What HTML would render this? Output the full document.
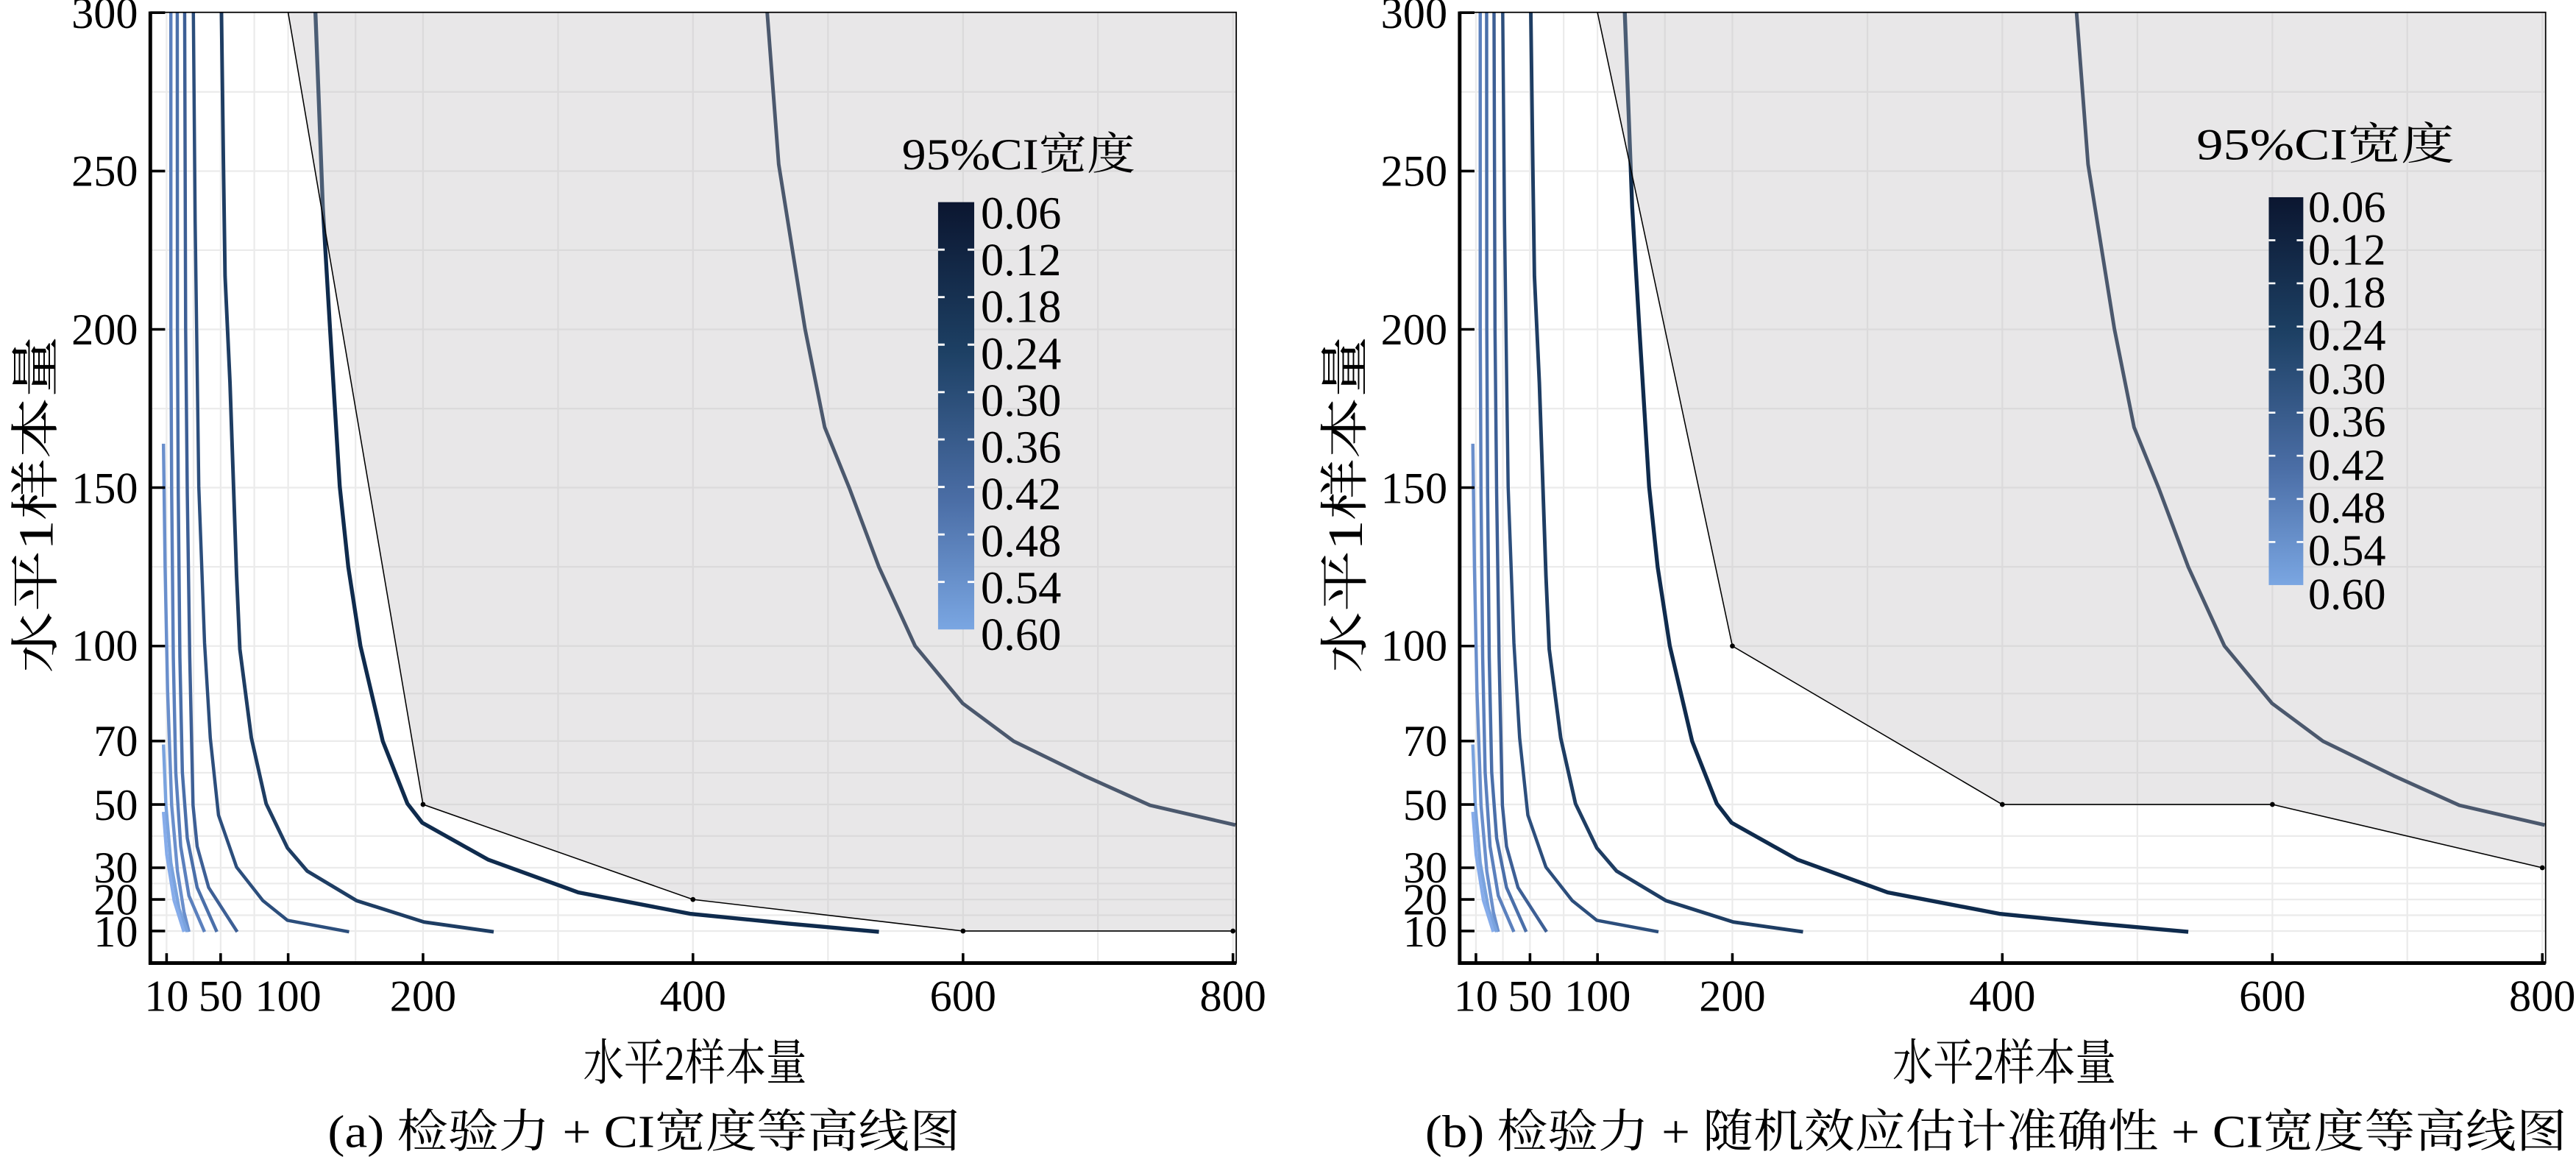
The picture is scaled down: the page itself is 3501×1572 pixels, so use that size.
<!DOCTYPE html>
<html><head><meta charset="utf-8"><style>
html,body{margin:0;padding:0;background:#fff;}
svg{display:block;}
text{font-family:"Liberation Serif","Noto Serif CJK SC","Noto Sans CJK SC",serif;fill:#000;}
</style></head><body>
<svg width="3501" height="1572" viewBox="0 0 1568 704" preserveAspectRatio="none" xmlns="http://www.w3.org/2000/svg" xmlns:xlink="http://www.w3.org/1999/xlink">
<defs>
<linearGradient id="cb" x1="0" y1="0" x2="0" y2="1">
<stop offset="0" stop-color="#0b1630"/><stop offset="0.35" stop-color="#1d4064"/><stop offset="0.7" stop-color="#4b6ea6"/><stop offset="1" stop-color="#7aa6e2"/>
</linearGradient>
<g id="base">
<g stroke="#ebebeb" stroke-width="1" fill="none">
<path d="M101.4 7.7V586M117.8 7.7V586M134.3 7.7V586M154.8 7.7V586M175.4 7.7V586M216.4 7.7V586M257.5 7.7V586M339.7 7.7V586M421.8 7.7V586M504 7.7V586M586.2 7.7V586M668.3 7.7V586M750.5 7.7V586"/>
<path d="M91.5 566.5H752M91.5 556.9H752M91.5 547.3H752M91.5 537.6H752M91.5 528H752M91.5 508.7H752M91.5 489.5H752M91.5 470.2H752M91.5 450.9H752M91.5 422H752M91.5 393.1H752M91.5 344.9H752M91.5 296.7H752M91.5 248.6H752M91.5 200.4H752M91.5 152.2H752M91.5 104.1H752M91.5 55.9H752"/>
</g>
<g fill="none" stroke-linejoin="round" stroke-linecap="butt">
<path stroke="#0e2442" stroke-width="2.2" d="M467 7.7L474 100L490 200L502 260L517 297L535 345L557 393L586 428L617 451L660 472L700 490L752 502"/>
<path stroke="#0f2b4d" stroke-width="2.4" d="M192 7.7L194 60L196.5 126L201 202L206.8 296L212 345L219.4 393L233 451L248 489L257 500.6L297 523L352 543L420 556L480 562L535 567"/>
<path stroke="#1e3d63" stroke-width="2.2" d="M134.8 7.7L136 100L137 168L140 233L144 350L146 395L153 449L162 489L175 516L187 530L217 548L258 561L300.5 567"/>
<path stroke="#2c4e7c" stroke-width="2" d="M117.7 7.7L118.8 135L121 296L124.5 391L128 449L133 496L144 527.6L160 548L175 560L212.5 567"/>
<path stroke="#3d5f95" stroke-width="2" d="M112.4 7.7L113 200L114 300L115.5 400L117.5 490L120 515L127 540L144.4 567"/>
<path stroke="#4a6fa9" stroke-width="2" d="M107.9 7.7L108 200L108.5 300L109.5 400L111 470L114 510L120 540L132 567"/>
<path stroke="#5b80bd" stroke-width="2" d="M104 7.7L104 200L104.5 300L105.5 400L107 470L110 515L115 545L124.5 567"/>
<path stroke="#6a8fcc" stroke-width="2" d="M99.5 270L100.5 345L102 420L104.5 490L108 530L112 555L115 567"/>
<path stroke="#7aa3de" stroke-width="2" d="M99.5 453L101 490L104 525L109 553L114 567"/>
<path stroke="#86acea" stroke-width="2" d="M99.5 494L101.5 520L106 548L112 567"/>
</g>
</g>
</defs>

<use xlink:href="#base"/>
<path d="M175.4 7.7L257.5 489.5L421.8 547.3L586.2 566.5L752 566.5L752 7.7Z" fill="rgb(189,187,189)" fill-opacity="0.35"/>
<path d="M175.4 7.7L257.5 489.5L421.8 547.3L586.2 566.5L752 566.5" fill="none" stroke="#000" stroke-width="0.7"/>
<g fill="#000"><circle cx="257.5" cy="489.5" r="1.5"/><circle cx="421.8" cy="547.3" r="1.5"/><circle cx="586.2" cy="566.5" r="1.5"/><circle cx="750.5" cy="566.5" r="1.5"/></g>

<use xlink:href="#base" transform="translate(797,0)"/>
<path d="M972.4 7.7L1054.5 393.1L1218.8 489.5L1383.2 489.5L1547.5 528L1549 528L1549 7.7Z" fill="rgb(189,187,189)" fill-opacity="0.35"/>
<path d="M972.4 7.7L1054.5 393.1L1218.8 489.5L1383.2 489.5L1547.5 528" fill="none" stroke="#000" stroke-width="0.7"/>
<g fill="#000"><circle cx="1054.5" cy="393.1" r="1.5"/><circle cx="1218.8" cy="489.5" r="1.5"/><circle cx="1383.2" cy="489.5" r="1.5"/><circle cx="1547.5" cy="528" r="1.5"/></g>

<g id="frameA" fill="none" stroke="#000">
<rect x="91.5" y="7.5" width="661" height="578.5" stroke-width="0.8"/>
<path d="M91.5 7V587M90.5 586H752.5" stroke-width="2.2"/>
<path stroke-width="1.6" d="M91.5 566.5h9M91.5 547.3h9M91.5 528h9M91.5 489.5h9M91.5 450.9h9M91.5 393.1h9M91.5 296.7h9M91.5 200.4h9M91.5 104.1h9M91.5 7.7h9M101.4 586v-6M134.3 586v-6M175.4 586v-6M257.5 586v-6M421.8 586v-6M586.2 586v-6M750.5 586v-6"/>
</g>
<use xlink:href="#frameA" transform="translate(797,0)"/>

<g font-size="27" text-anchor="end">
<text x="84" y="17">300</text><text x="84" y="113">250</text><text x="84" y="209.5">200</text><text x="84" y="306">150</text><text x="84" y="402">100</text><text x="84" y="460">70</text><text x="84" y="499">50</text><text x="84" y="537">30</text><text x="84" y="556.5">20</text><text x="84" y="576">10</text>
<text x="881" y="17">300</text><text x="881" y="113">250</text><text x="881" y="209.5">200</text><text x="881" y="306">150</text><text x="881" y="402">100</text><text x="881" y="460">70</text><text x="881" y="499">50</text><text x="881" y="537">30</text><text x="881" y="556.5">20</text><text x="881" y="576">10</text>
</g>
<g font-size="27" text-anchor="middle">
<text x="101.4" y="615">10</text><text x="134.3" y="615">50</text><text x="175.4" y="615">100</text><text x="257.5" y="615">200</text><text x="421.8" y="615">400</text><text x="586.2" y="615">600</text><text x="750.5" y="615">800</text>
<text x="898.4" y="615">10</text><text x="931.3" y="615">50</text><text x="972.4" y="615">100</text><text x="1054.5" y="615">200</text><text x="1218.8" y="615">400</text><text x="1383.2" y="615">600</text><text x="1547.5" y="615">800</text>
</g>
<g font-size="30" text-anchor="middle">
<text x="423" y="657" textLength="136" lengthAdjust="spacingAndGlyphs">水平2样本量</text>
<text x="1220" y="657" textLength="136" lengthAdjust="spacingAndGlyphs">水平2样本量</text>
<text transform="translate(32,307) rotate(-90)" textLength="205" lengthAdjust="spacingAndGlyphs">水平1样本量</text>
<text transform="translate(829,307) rotate(-90)" textLength="205" lengthAdjust="spacingAndGlyphs">水平1样本量</text>
</g>
<g font-size="28" text-anchor="middle">
<text x="392" y="698" textLength="385" lengthAdjust="spacingAndGlyphs">(a) 检验力 + CI宽度等高线图</text>
<text x="1215" y="698" textLength="695" lengthAdjust="spacingAndGlyphs">(b) 检验力 + 随机效应估计准确性 + CI宽度等高线图</text>
</g>

<text x="549" y="103" font-size="27" textLength="142" lengthAdjust="spacingAndGlyphs">95%CI宽度</text>
<rect x="571" y="123" width="22" height="260" fill="url(#cb)"/>
<g stroke="#fff" stroke-width="1.3">
<path d="M571 151.9h4M589 151.9h4M571 180.8h4M589 180.8h4M571 209.7h4M589 209.7h4M571 238.6h4M589 238.6h4M571 267.4h4M589 267.4h4M571 296.3h4M589 296.3h4M571 325.2h4M589 325.2h4M571 354.1h4M589 354.1h4"/>
</g>
<g font-size="28">
<text x="597" y="139">0.06</text><text x="597" y="167.5">0.12</text><text x="597" y="196">0.18</text><text x="597" y="224.5">0.24</text><text x="597" y="253">0.30</text><text x="597" y="281.5">0.36</text><text x="597" y="310">0.42</text><text x="597" y="338.5">0.48</text><text x="597" y="367">0.54</text><text x="597" y="395.5">0.60</text>
</g>

<text x="1337" y="97" font-size="27" textLength="157" lengthAdjust="spacingAndGlyphs">95%CI宽度</text>
<rect x="1381" y="120" width="21" height="236" fill="url(#cb)"/>
<g stroke="#fff" stroke-width="1.2">
<path d="M1381 146.2h4M1398 146.2h4M1381 172.4h4M1398 172.4h4M1381 198.7h4M1398 198.7h4M1381 224.9h4M1398 224.9h4M1381 251.1h4M1398 251.1h4M1381 277.3h4M1398 277.3h4M1381 303.6h4M1398 303.6h4M1381 329.8h4M1398 329.8h4"/>
</g>
<g font-size="27">
<text x="1405" y="135">0.06</text><text x="1405" y="161">0.12</text><text x="1405" y="187">0.18</text><text x="1405" y="213">0.24</text><text x="1405" y="239.5">0.30</text><text x="1405" y="265.5">0.36</text><text x="1405" y="292">0.42</text><text x="1405" y="318">0.48</text><text x="1405" y="344">0.54</text><text x="1405" y="370.5">0.60</text>
</g>
</svg>
</body></html>
